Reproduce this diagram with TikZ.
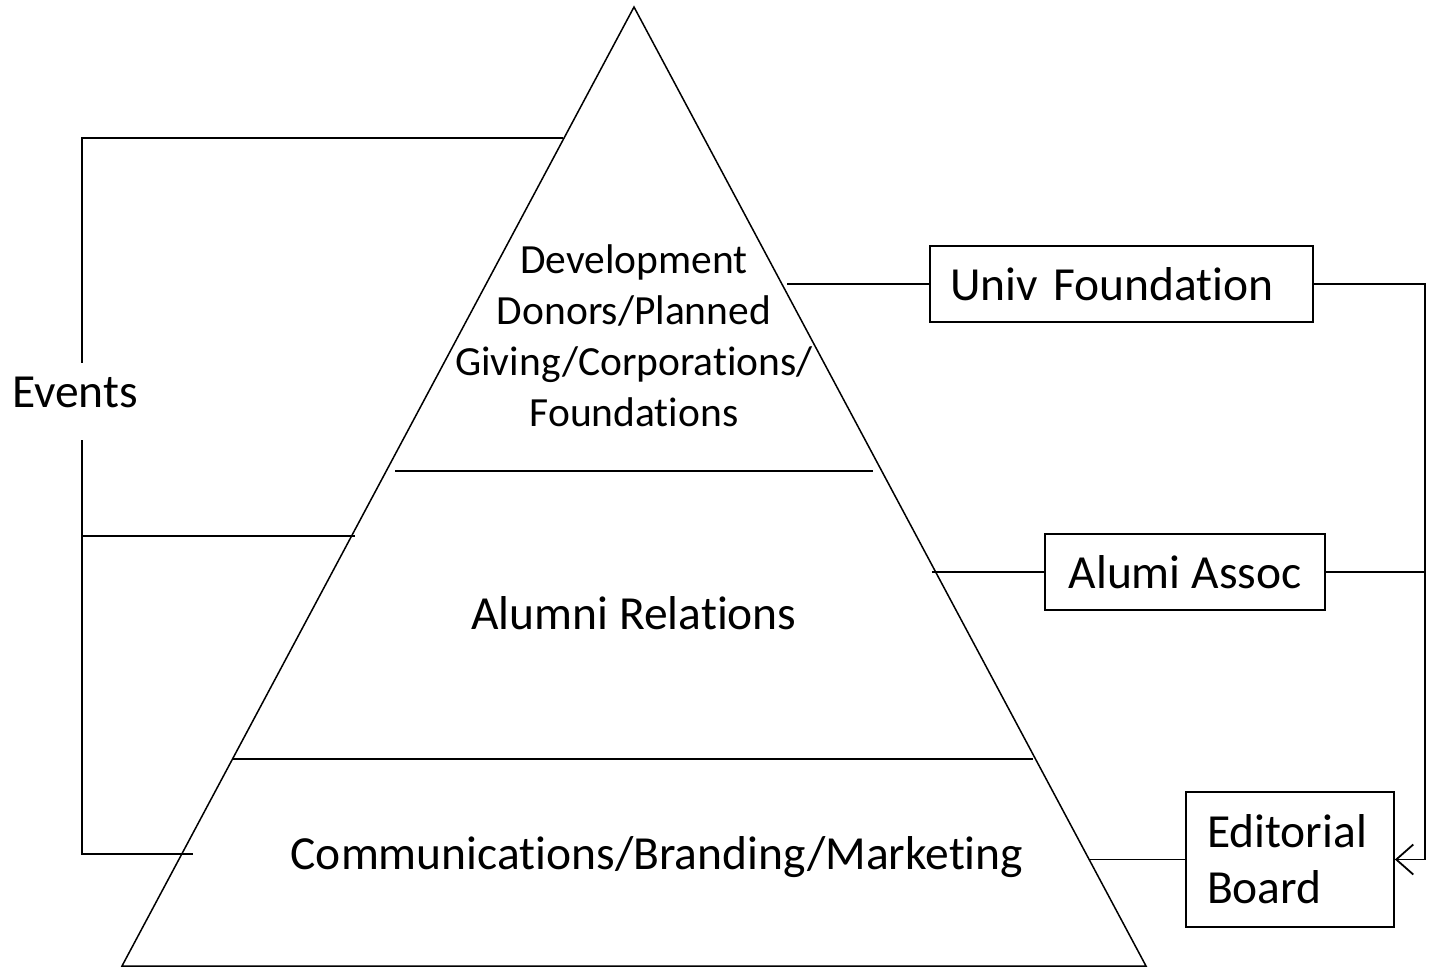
\documentclass[tikz,border=0pt]{standalone}
\usepackage{fontspec}
\setmainfont{Carlito}[Ligatures={NoCommon}]
\usetikzlibrary{arrows.meta}
\begin{document}
\begin{tikzpicture}[x=0.5pt,y=-0.5pt,
  conn/.style={line width=0.9pt},
  tri/.style={line width=0.75pt},
  lbl/.style={font=\fontsize{23.75pt}{28pt}\selectfont, inner sep=0pt},
  toplbl/.style={font=\fontsize{20.75pt}{25.5pt}\selectfont, inner sep=0pt, align=center},
  box/.style={draw, line width=0.9pt, font=\fontsize{23.75pt}{28pt}\selectfont, inner sep=0pt}]
\useasboundingbox (0,0) rectangle (1429,968);
% pyramid
\coordinate (apex) at (634,7);
\coordinate (bl) at (122,966);
\coordinate (br) at (1146,966);
\draw[tri] (apex) -- (br) -- (bl) -- cycle;
\coordinate (d1l) at (395,471); \coordinate (d1r) at (873,471);
\coordinate (d2l) at (233,759); \coordinate (d2r) at (1033,759);
\draw[conn] (d1l) -- (d1r);
\draw[conn] (d2l) -- (d2r);
% pyramid labels
\node[toplbl] (dev) at (634,336) {Development\\Donors/Planned\\Giving/Corporations/\\Foundations};
\node[lbl] (alr) at (634,613) {Alumni Relations};
\node[lbl] (com) at (657,857) {Communications/Branding/Marketing};
% events bracket
\node[lbl] (ev) at (75,392) {Events};
\coordinate (e1) at (82,138); \coordinate (e1r) at (563,138);
\coordinate (e2) at (82,536); \coordinate (e2r) at (355,536);
\coordinate (e3) at (82,854); \coordinate (e3r) at (193,854);
\coordinate (eg1) at (82,363); \coordinate (eg2) at (82,440);
\draw[conn] (e1r) -- (e1) -- (eg1);
\draw[conn] (eg2) -- (e3) -- (e3r);
\draw[conn] (e2) -- (e2r);
% right boxes
\node[box, minimum width=191.5pt, minimum height=38pt, text width=171.5pt, align=left] (uf) at (1121.5,284) {Univ Foundation};
\node[box, minimum width=140pt, minimum height=38pt, align=center] (aa) at (1185,572) {Alumi Assoc};
\node[box, minimum width=104pt, minimum height=67.5pt, text width=83pt, align=left] (eb) at (1290,859.5) {Editorial\\Board};
% right connectors
\coordinate (t1) at (787,284);
\coordinate (t2) at (932,572);
\coordinate (t3) at (1089,859.5);
\coordinate (rc) at (1425,284);
\coordinate (rb) at (1425,859.5);
\draw[conn] (t1) -- (uf.west);
\draw[conn] (t2) -- (aa.west);
\draw[conn] (t3) -- (eb.west);
\draw[conn] (aa.east) -- (aa.east -| rc);
\draw[conn, -{Straight Barb[length=8.5pt,width=15pt,line width=0.9pt]}] (uf.east) -- (rc) -- (rb) -- (eb.east);
\end{tikzpicture}
\end{document}
